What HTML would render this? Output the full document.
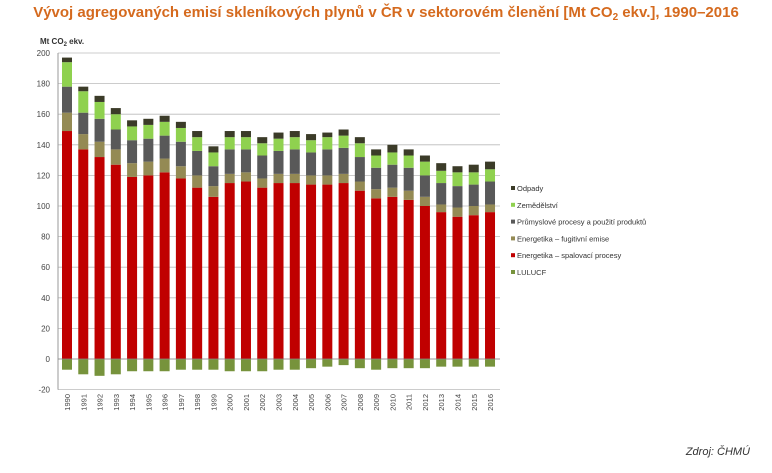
<!DOCTYPE html>
<html><head><meta charset="utf-8"><style>
body{margin:0;background:#fff;width:772px;height:468px;overflow:hidden;font-family:"Liberation Sans",sans-serif}
</style></head><body>
<svg id="s" width="772" height="468" xmlns="http://www.w3.org/2000/svg">
<text x="386" y="17" text-anchor="middle" font-family="Liberation Sans" font-weight="bold" font-size="15" fill="#d56a1e">Vývoj agregovaných emisí skleníkových plynů v ČR v sektorovém členění [Mt CO<tspan font-size="10" dy="3">2</tspan><tspan dy="-3"> ekv.], 1990–2016</tspan></text>
<text x="40" y="44" font-size="8" font-weight="bold" fill="#333">Mt CO<tspan font-size="6" dy="2">2</tspan><tspan dy="-2"> ekv.</tspan></text>
<text x="750" y="455" text-anchor="end" font-size="11" font-style="italic" fill="#333">Zdroj: ČHMÚ</text>
<g id="g"></g>
</svg>
<script>
var d=[[149,161,178,194,197,-7],[137,147,161,175,178,-10],[132,142,157,168,172,-11],[127,137,150,160,164,-10],[119,128,143,152,156,-8],[120,129,144,153,157,-8],[122,131,146,155,159,-8],[118,126,142,151,155,-7],[112,120,136,145,149,-7],[106,113,126,135,139,-7],[115,121,137,145,149,-8],[116,122,137,145,149,-8],[112,118,133,141,145,-8],[115,121,136,144,148,-7],[115,121,137,145,149,-7],[114,120,135,143,147,-6],[114,120,137,145,148,-5],[115,121,138,146,150,-4],[110,116,132,141,145,-6],[105,111,125,133,137,-7],[106,112,127,135,140,-6],[104,110,125,133,137,-6],[100,106,120,129,133,-6],[96,101,115,123,128,-5],[93,99,113,122,126,-5],[94,100,114,122,127,-5],[96,101,116,124,129,-5]];
var c=["#c00000","#948a54","#595959","#8fd14f","#3b3b28"];
function Y(v){return 359-v*1.53;}
var h="";
for(var v=-20;v<=200;v+=20){h+='<line x1="58" x2="500" y1="'+Y(v)+'" y2="'+Y(v)+'" stroke="#bbb" stroke-width="0.8"/>';h+='<text x="50" y="'+(Y(v)+3)+'" text-anchor="end" font-size="8" fill="#444">'+v+'</text>';}
h+='<line x1="58" x2="58" y1="'+Y(200)+'" y2="'+Y(-20)+'" stroke="#999"/>';
for(var i=0;i<27;i++){var x=67+i*16.27-5,p=0;
for(var k=0;k<5;k++){var t=d[i][k];h+='<rect x="'+x+'" y="'+Y(t)+'" width="10" height="'+(Y(p)-Y(t))+'" fill="'+c[k]+'"/>';p=t;}
h+='<rect x="'+x+'" y="'+Y(0)+'" width="10" height="'+(Y(d[i][5])-Y(0))+'" fill="#77933c"/>';
h+='<text transform="translate('+(x+8)+',394) rotate(-90)" text-anchor="end" font-size="7.5" fill="#444">'+(1990+i)+'</text>';}
h+='<line x1="58" x2="500" y1="'+Y(0)+'" y2="'+Y(0)+'" stroke="#888" stroke-width="0.8"/>';
var L=[["Odpady","#3b3b28"],["Zemědělství","#8fd14f"],["Průmyslové procesy a použití produktů","#595959"],["Energetika – fugitivní emise","#948a54"],["Energetika – spalovací procesy","#c00000"],["LULUCF","#77933c"]];
for(var j=0;j<6;j++){var yy=189+j*16.8;h+='<rect x="511" y="'+(yy-3)+'" width="4" height="4" fill="'+L[j][1]+'"/><text x="517" y="'+(yy+2)+'" font-size="7.5" fill="#333">'+L[j][0]+'</text>';}
document.getElementById("g").innerHTML=h;
</script>
</body></html>
